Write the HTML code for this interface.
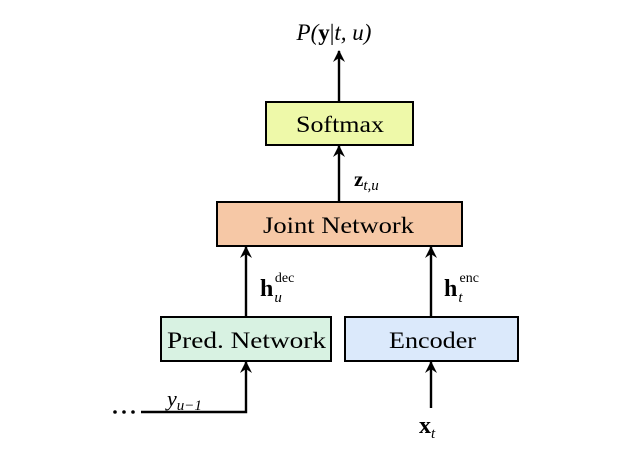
<!DOCTYPE html>
<html><head><style>body{margin:0;background:#fff}</style></head><body>
<svg width="631" height="460" xmlns="http://www.w3.org/2000/svg" font-family="Liberation Serif, serif">
<defs><marker id="a" markerWidth="12" markerHeight="16" refX="11" refY="6" orient="auto" markerUnits="userSpaceOnUse"><path d="M0,0 L12,6 L0,12 L4,6 z" fill="#000"/></marker></defs>
<g stroke="#000" stroke-width="2.4" fill="none">
<line x1="339" y1="102" x2="339" y2="51" marker-end="url(#a)"/>
<line x1="339" y1="202" x2="339" y2="146" marker-end="url(#a)"/>
<line x1="246" y1="317" x2="246" y2="247" marker-end="url(#a)"/>
<line x1="431" y1="317" x2="431" y2="247" marker-end="url(#a)"/>
<polyline points="141,412 246,412 246,362" marker-end="url(#a)"/>
<line x1="431" y1="408" x2="431" y2="362" marker-end="url(#a)"/>
</g>
<rect x="266" y="102" width="147" height="43" fill="#eef9a9" stroke="#000" stroke-width="2"/>
<rect x="217" y="202" width="245" height="44" fill="#f6c8a6" stroke="#000" stroke-width="2"/>
<rect x="161" y="317" width="170" height="44" fill="#d8f2e2" stroke="#000" stroke-width="2"/>
<rect x="345" y="317" width="173" height="44" fill="#dbe9fb" stroke="#000" stroke-width="2"/>
<g font-size="23" fill="#000">
<text x="296" y="132" textLength="88" lengthAdjust="spacingAndGlyphs">Softmax</text>
<text x="263" y="233" textLength="151" lengthAdjust="spacingAndGlyphs">Joint Network</text>
<text x="167" y="348" textLength="159" lengthAdjust="spacingAndGlyphs">Pred. Network</text>
<text x="389" y="348" textLength="87" lengthAdjust="spacingAndGlyphs">Encoder</text>
</g>
<text x="334" y="40" font-size="23" text-anchor="middle" font-style="italic">P(<tspan font-weight="bold" font-style="normal">y</tspan><tspan font-style="normal">|</tspan>t, u)</text>
<text x="354" y="186" font-size="21" font-weight="bold">z<tspan font-size="15" font-weight="normal" font-style="italic" dy="4">t,u</tspan></text>
<text x="260" y="296" font-size="24" font-weight="bold">h<tspan font-size="15" font-weight="normal" font-style="italic" dx="1" dy="6">u</tspan><tspan font-size="14" font-weight="normal" dx="-7" dy="-20">dec</tspan></text>
<text x="444" y="296" font-size="24" font-weight="bold">h<tspan font-size="15" font-weight="normal" font-style="italic" dx="1" dy="6">t</tspan><tspan font-size="14" font-weight="normal" dx="-3" dy="-20">enc</tspan></text>
<text x="167" y="406" font-size="22" font-style="italic">y<tspan font-size="15" dy="4">u−1</tspan></text>
<g fill="#000"><circle cx="115" cy="412" r="1.8"/><circle cx="124" cy="412" r="1.8"/><circle cx="133" cy="412" r="1.8"/></g>
<text x="419" y="433" font-size="24" font-weight="bold">x<tspan font-size="15" font-weight="normal" font-style="italic" dy="5">t</tspan></text>
</svg>
</body></html>
